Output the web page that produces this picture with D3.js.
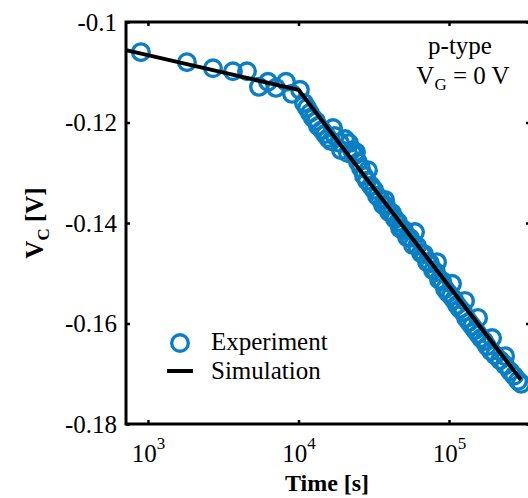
<!DOCTYPE html>
<html>
<head>
<meta charset="utf-8">
<script src="https://cdn.jsdelivr.net/npm/d3@7"></script>
<style>
  body { margin: 0; background: #fff; }
  svg { display: block; font-family: "Liberation Serif", "Times New Roman", serif; }
</style>
</head>
<body>
<svg id="chart" width="528" height="498"></svg>
<script>
// measured points (time in s, collector voltage in V)
const expTime = [898, 1816, 2704, 3671, 4549, 5464, 6271, 7088, 8259, 9052, 10233,
  10880, 11390, 11920, 12480, 13070, 13480, 14330, 15010, 15710, 16440, 17480, 18870,
  20370, 21650, 22670, 21330, 23740, 24850, 26020, 27240, 28520, 30320, 31750, 33240,
  34800, 36440, 38150, 39930, 41810, 43770, 45830, 47980, 50240, 52590, 55070, 57650,
  61290, 65160, 68220, 71420, 74780, 78290, 81960, 85820, 89850, 94070, 98490,
  103100, 108000, 113000, 118300, 123900, 129700, 135800, 142200, 148900, 155900,
  163200, 170900, 178900, 190100, 202100, 218300, 235600, 254300, 270400, 287400, 300900,
  16950, 19170, 24100, 28960, 37560, 47240,
  59440, 83240, 104700, 127700, 155900, 193100, 235600];
const expVc = [-0.1060, -0.1080, -0.1092, -0.1098, -0.1098, -0.1129, -0.1119, -0.1131, -0.1119, -0.1143, -0.1135,
  -0.1161, -0.1171, -0.1181, -0.1191, -0.1197, -0.1207, -0.1215, -0.1223, -0.1231, -0.1237, -0.1227, -0.1241,
  -0.1233, -0.1241, -0.1255, -0.1261, -0.1265, -0.1279, -0.1291, -0.1306, -0.1316, -0.1326, -0.1334, -0.1346,
  -0.1352, -0.1364, -0.1366, -0.1378, -0.1380, -0.1392, -0.1398, -0.1412, -0.1414, -0.1428, -0.1430, -0.1444,
  -0.1446, -0.1460, -0.1462, -0.1478, -0.1480, -0.1494, -0.1498, -0.1513, -0.1515, -0.1531, -0.1539,
  -0.1545, -0.1553, -0.1563, -0.1571, -0.1577, -0.1589, -0.1597, -0.1605, -0.1613, -0.1621,
  -0.1629, -0.1635, -0.1645, -0.1655, -0.1663, -0.1673, -0.1683, -0.1695, -0.1704, -0.1714, -0.1720,
  -0.1211, -0.1255, -0.1259, -0.1295, -0.1354, -0.1410,
  -0.1418, -0.1478, -0.1521, -0.1555, -0.1589, -0.1629, -0.1665];

// simulation curve
const simTime = [715, 10000, 20000, 300000];
const simVc = [-0.1056, -0.1135, -0.1253, -0.1712];

const xTicks = [1e3, 1e4, 1e5];
const yTicks = [-0.18, -0.16, -0.14, -0.12, -0.1];

const blue = "#0b7fc3";
const width = 528, height = 498;
const margin = { left: 126, top: 22, right: -2, bottom: 74 };
const innerWidth = width - margin.left - margin.right;
const innerHeight = height - margin.top - margin.bottom;

const svg = d3.select("#chart");
const g = svg.append("g").attr("transform", `translate(${margin.left}, ${margin.top})`);

const xScale = d3.scaleLog().domain([715, 345000]).range([0, innerWidth]);
const yScale = d3.scaleLinear().domain([-0.18, -0.1]).range([innerHeight, 0]);

const yFmt = d => String(+d.toFixed(2));

// axes with inward ticks
const styleAxis = sel => {
  sel.select(".domain").remove();
  sel.selectAll(".tick line").attr("stroke", "#000").attr("stroke-width", 2.5);
};
const noLabels = sel => sel.selectAll(".tick text").remove();

g.append("g").attr("id", "y-axis")
  .call(d3.axisLeft(yScale).tickValues(yTicks).tickFormat(yFmt).tickSize(-4).tickPadding(9))
  .call(styleAxis)
  .selectAll("text").attr("font-size", 25).attr("fill", "#000").attr("font-family", "Liberation Serif").attr("dy", "0.33em");

g.append("g").attr("transform", `translate(${innerWidth}, 0)`)
  .call(d3.axisRight(yScale).tickValues(yTicks).tickSize(-4))
  .call(styleAxis).call(noLabels);

g.append("g").call(d3.axisTop(xScale).tickValues(xTicks).tickSize(-4))
  .call(styleAxis).call(noLabels);

const xAxisG = g.append("g").attr("id", "x-axis")
  .attr("transform", `translate(0, ${innerHeight})`)
  .call(d3.axisBottom(xScale).tickValues(xTicks).tickSize(-4))
  .call(styleAxis);

xAxisG.selectAll("text").each(function(d) {
  const t = d3.select(this);
  t.text(null).attr("y", 38).attr("dy", 0).attr("fill", "#000")
    .attr("font-family", "Liberation Serif").attr("font-size", 25);
  t.append("tspan").text("10");
  t.append("tspan").attr("dy", -13).attr("font-size", 17).text(Math.round(Math.log10(d)));
});

// frame
g.append("rect")
  .attr("x", 0).attr("y", 0)
  .attr("width", innerWidth).attr("height", innerHeight)
  .attr("fill", "none").attr("stroke", "#000").attr("stroke-width", 3);

// experiment circles
const expData = expTime.map((t, i) => ({ t, v: expVc[i] })).sort((a, b) => a.t - b.t);
g.append("g").selectAll("circle").data(expData).enter()
  .append("circle")
  .attr("cx", d => xScale(d.t))
  .attr("cy", d => yScale(d.v))
  .attr("r", 8.3)
  .attr("fill", "none")
  .attr("stroke", blue)
  .attr("stroke-width", 3.4);

// simulation line
const simData = simTime.map((t, i) => ({ t, v: simVc[i] }));
const line = d3.line().x(d => xScale(d.t)).y(d => yScale(d.v));
g.append("path")
  .attr("d", line(simData))
  .attr("fill", "none")
  .attr("stroke", "#000")
  .attr("stroke-width", 4)
  .attr("stroke-linejoin", "round");

// axis titles
svg.append("text")
  .attr("x", margin.left + innerWidth / 2 - 1).attr("y", 491)
  .attr("text-anchor", "middle").attr("font-size", 24).attr("font-weight", "bold")
  .text("Time [s]");

const yLab = svg.append("text")
  .attr("transform", `translate(43, ${margin.top + innerHeight / 2}) rotate(-90)`)
  .attr("text-anchor", "middle").attr("font-size", 25).attr("font-weight", "bold");
yLab.append("tspan").text("V");
yLab.append("tspan").attr("dy", 6).attr("font-size", 17).text("C");
yLab.append("tspan").attr("dy", -6).text(" [V]");

// annotation
svg.append("text").attr("x", 460).attr("y", 54)
  .attr("text-anchor", "middle").attr("font-size", 25).text("p-type");
const vg = svg.append("text").attr("x", 463).attr("y", 84)
  .attr("text-anchor", "middle").attr("font-size", 25);
vg.append("tspan").text("V");
vg.append("tspan").attr("dy", 6).attr("font-size", 17).text("G");
vg.append("tspan").attr("dy", -6).text(" = 0 V");

// legend
const legend = svg.append("g");
legend.append("circle").attr("cx", 180).attr("cy", 343).attr("r", 8.3)
  .attr("fill", "none").attr("stroke", blue).attr("stroke-width", 3.4);
legend.append("text").attr("x", 211).attr("y", 350).attr("font-size", 25).text("Experiment");
legend.append("line").attr("x1", 167).attr("x2", 193).attr("y1", 371).attr("y2", 371)
  .attr("stroke", "#000").attr("stroke-width", 4);
legend.append("text").attr("x", 211).attr("y", 379).attr("font-size", 25).text("Simulation");
</script>
</body>
</html>
